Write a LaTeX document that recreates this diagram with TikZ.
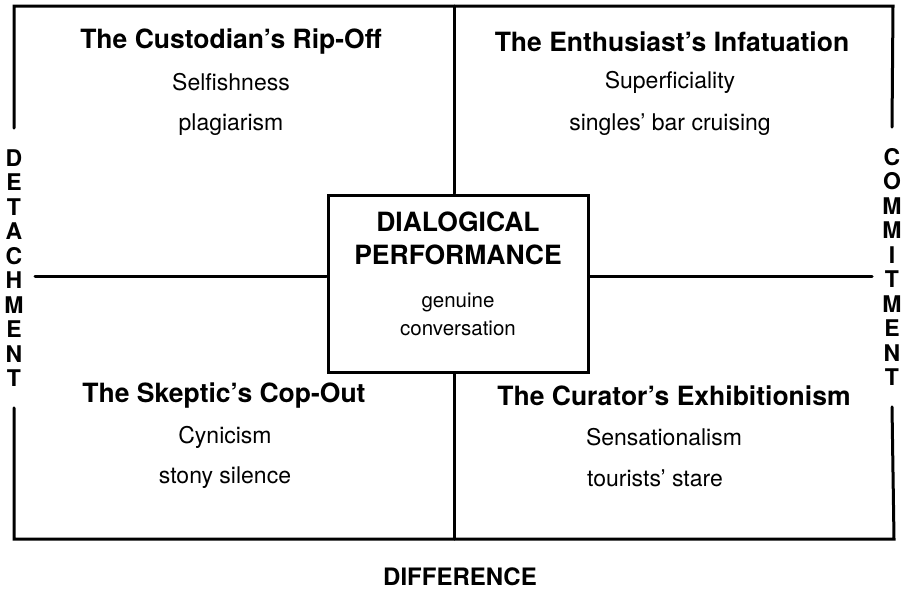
\documentclass[tikz,border=0pt]{standalone}
\usepackage{fontspec}
\setmainfont{TeX Gyre Heros}
\usepackage{tikz}
\usetikzlibrary{positioning}

\begin{document}
\begin{tikzpicture}[x=1pt,y=-1pt,
  frame/.style={line width=3pt,line cap=round},
  heading/.style={font=\fontsize{26.5}{33}\selectfont\bfseries,align=center},
  entry/.style={font=\fontsize{23}{27}\selectfont},
  axis/.style={font=\fontsize{23}{24.5}\selectfont\bfseries,align=center,
    inner xsep=0pt,inner ysep=21pt},
  core/.style={draw,line width=3pt,minimum width=260pt,minimum height=177pt,inner sep=0pt}
]
  \useasboundingbox (0,0) rectangle (907,598);

  % outer frame, broken by the two axis words
  \coordinate (tl) at (14,6);  \coordinate (tr) at (893,6);
  \coordinate (bl) at (14,539); \coordinate (br) at (894,539);
  \node[axis] (det) at (14,268) {D\\E\\T\\A\\C\\H\\M\\E\\N\\T};
  \node[axis] (com) at (892,267) {C\\O\\M\\M\\I\\T\\M\\E\\N\\T};
  \draw[frame] (det.north) -- (tl) -- (tr) -- (com.north);
  \draw[frame] (det.south) -- (bl) -- (br) -- (com.south);
  \node[font=\fontsize{24}{28}\selectfont\bfseries] (diff) at (460,577) {DIFFERENCE};

  % centre box and the cross
  \node[core] (dp) at (458,283.5) {};
  \node[heading] (dptitle) at (458,238.5) {DIALOGICAL\\PERFORMANCE};
  \node[font=\fontsize{20.5}{28}\selectfont,align=center] (dpsub) at (458,314) {genuine\\conversation};
  \coordinate (vt) at (454,6);  \coordinate (vb) at (454,539);
  \coordinate (hl) at (35,276); \coordinate (hr) at (872,276);
  \draw[frame] (vt) -- (vt |- dp.north);
  \draw[frame] (vt |- dp.south) -- (vb);
  \draw[frame] (hl) -- (hl -| dp.west);
  \draw[frame] (hr -| dp.east) -- (hr);

  % quadrants
  \node[heading] (cust) at (231,42) {The Custodian’s Rip-Off};
  \node[entry] (cust1) at (231,82) {Selfishness};
  \node[entry] (cust2) at (231,125) {plagiarism};

  \node[heading] (enth) at (672,42) {The Enthusiast’s Infatuation};
  \node[entry] (enth1) at (670,82) {Superficiality};
  \node[entry] (enth2) at (670,125) {singles' bar cruising};

  \node[heading] (skep) at (224,396) {The Skeptic’s Cop-Out};
  \node[entry] (skep1) at (225,437) {Cynicism};
  \node[entry] (skep2) at (225,478) {stony silence};

  \node[heading] (cura) at (674,396) {The Curator’s Exhibitionism};
  \node[entry] (cura1) at (664,437) {Sensationalism};
  \node[entry] (cura2) at (655,478) {tourists’ stare};
\end{tikzpicture}
\end{document}
